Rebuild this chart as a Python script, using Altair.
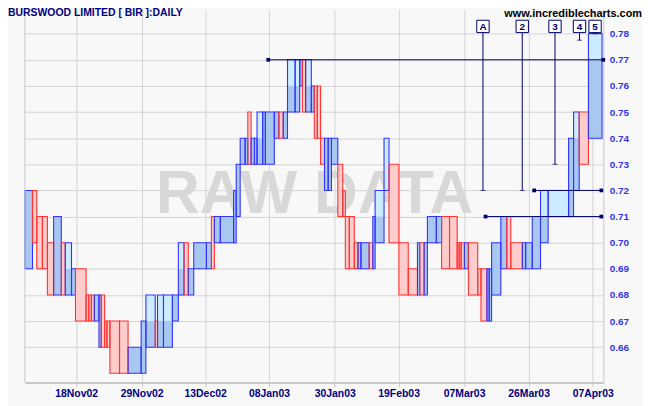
import altair as alt
import pandas as pd

# ---------------- data ----------------
# volume (box width, arbitrary volume units) for each daily box
vol = [7.7, 4.3, 5.7, 5, 6.3, 7.7, 4, 6.3, 4, 10.7,
       2.7, 2.6, 3, 4.7, 2.3, 3.4, 2.3, 3, 9.7, 8.6,
       13.2, 4.8, 9.4, 2.3, 6, 9, 6, 5.7, 4.3, 5.5,
       12.8, 5, 3, 6, 13.4, 2.6, 4, 5, 2.7, 3.3,
       3.4, 2.6, 5.7, 2.7, 9, 4.6, 4.4, 4.3, 7.7, 4.6,
       2.7, 3.3, 5.7, 3, 3, 3.3, 4, 3.7, 3.3, 6.4,
       5, 2.6, 4, 5, 3.7, 3, 8.3, 3.7, 2.3, 9,
       5, 10, 9.4, 9.3, 2.3, 4.4, 3.3, 9, 5.3, 8,
       7.7, 2, 2, 3.3, 4, 9.4, 3.3, 6, 2.3, 2.4,
       9.3, 6, 4, 11.7, 3.3, 6.7, 8.3, 7.7, 20.6, 5,
       5.7, 9.3, 13.7]
low = [.69, .70, .69, .69, .68, .68, .68, .68, .68, .67,
       .67, .67, .67, .67, .66, .66, .66, .66, .65, .65,
       .65, .65, .66, .66, .66, .66, .67, .68, .68, .68,
       .69, .69, .69, .70, .70, .70, .71, .73, .73, .73,
       .73, .73, .73, .73, .73, .74, .74, .74, .75, .75,
       .76, .75, .75, .75, .74, .74, .73, .72, .72, .73,
       .71, .71, .69, .69, .69, .69, .69, .69, .69, .70,
       .72, .70, .68, .68, .68, .68, .68, .70, .70, .69,
       .69, .69, .69, .69, .69, .68, .68, .67, .67, .67,
       .68, .69, .69, .69, .69, .69, .69, .70, .71, .71,
       .72, .73, .74]
high = [.72, .72, .71, .71, .70, .71, .70, .70, .69, .69,
        .68, .68, .68, .68, .68, .68, .67, .67, .67, .67,
        .66, .67, .68, .67, .68, .68, .68, .70, .70, .69,
        .70, .70, .71, .71, .71, .72, .73, .74, .74, .75,
        .74, .74, .75, .75, .75, .75, .75, .75, .77, .77,
        .77, .77, .77, .76, .76, .76, .74, .74, .74, .74,
        .73, .72, .71, .71, .70, .70, .70, .70, .71, .72,
        .74, .73, .70, .69, .70, .70, .70, .71, .71, .71,
        .71, .70, .70, .70, .70, .70, .69, .69, .69, .69,
        .70, .71, .71, .70, .70, .70, .71, .72, .72, .74,
        .75, .75, .78]
open_ = [.69, .72, .71, .71, .70, .68, .70, .68, .68, .69,
         .68, .68, .68, .67, .66, .68, .67, .67, .67, .67,
         .65, .65, .66, .67, .66, .66, .67, .68, .70, .68,
         .69, .69, .71, .70, .70, .70, .71, .73, .73, .75,
         .73, .73, .73, .73, .73, .74, .75, .74, .75, .75,
         .76, .77, .75, .75, .76, .76, .74, .72, .72, .73,
         .73, .72, .71, .71, .70, .69, .69, .70, .69, .70,
         .72, .73, .70, .69, .68, .70, .68, .70, .70, .71,
         .71, .70, .70, .70, .69, .70, .69, .69, .67, .67,
         .68, .69, .71, .70, .69, .69, .69, .70, .71, .71,
         .72, .75, .74]
close_ = [.72, .70, .69, .69, .68, .71, .68, .69, .69, .67,
          .67, .67, .67, .68, .68, .66, .66, .66, .65, .65,
          .66, .67, .67, .66, .67, .67, .68, .69, .68, .69,
          .70, .70, .69, .71, .71, .72, .73, .74, .74, .73,
          .74, .74, .74, .75, .75, .75, .74, .75, .76, .76,
          .77, .75, .76, .76, .74, .74, .73, .74, .74, .74,
          .71, .71, .69, .69, .69, .70, .70, .69, .71, .71,
          .72, .70, .68, .68, .70, .68, .70, .71, .71, .69,
          .69, .69, .69, .69, .70, .68, .68, .67, .69, .69,
          .70, .71, .69, .69, .70, .70, .71, .71, .71, .74,
          .74, .73, .77]

date_pos = [51.7, 117.7, 181.7, 246, 312.3, 376.7, 442.7, 507.7, 572.3]
date_labels = ["18Nov02", "29Nov02", "13Dec02", "08Jan03", "30Jan03",
               "19Feb03", "07Mar03", "26Mar03", "07Apr03"]
price_ticks = [0.66, 0.67, 0.68, 0.69, 0.70, 0.71, 0.72, 0.73, 0.74,
               0.75, 0.76, 0.77, 0.78]

# horizontal trend / support lines
hl_level = [0.77, 0.72, 0.71]
hl_start = [245.3, 513.3, 464.3]
hl_end = [583, 581, 581]

# signal flags
sig_label = ["A", "2", "3", "4", "5"]
sig_x = [461.7, 501.3, 534.3, 559, 574.7]
sig_price = [0.72, 0.72, 0.73, 0.7775, 0.78]

title_text = "BURSWOOD LIMITED [ BIR ]:DAILY"
site_text = "www.incrediblecharts.com"
watermark = "RAW DATA"

# ---------------- build tables ----------------
x0, acc = [], 0.0
for v in vol:
    x0.append(acc)
    acc += v
x1 = [a + v for a, v in zip(x0, vol)]
up = [c >= o for o, c in zip(open_, close_)]

BLUE, RED = "#3333ff", "#ff3333"
LIGHT_BLUE, BODY_BLUE, PINK = "#ccecff", "#a8c8f0", "#ffcccc"
NAVY = "#000066"

bars = pd.DataFrame({
    "x0": x0, "x1": x1, "low": low, "high": high,
    "bot": [min(o, c) for o, c in zip(open_, close_)],
    "top": [max(o, c) for o, c in zip(open_, close_)],
    "wick_fill": [LIGHT_BLUE if u else PINK for u in up],
    "body_fill": [BODY_BLUE if u else PINK for u in up],
    "line": [BLUE if u else RED for u in up],
})

lines = pd.DataFrame({"level": hl_level, "start": hl_start, "end": hl_end})
ends = pd.DataFrame({"x": hl_start + hl_end, "level": hl_level + hl_level})
sigs = pd.DataFrame({"label": sig_label, "x": sig_x, "price": sig_price})

W, H = 583, 376
xs = alt.Scale(domain=[0, 583], nice=False, zero=False)
ys = alt.Scale(domain=[0.64644, 0.78923], nice=False, zero=False)

label_expr = " : ".join(
    f"datum.value == {p} ? '{l}'" for p, l in zip(date_pos, date_labels)) + " : ''"

xaxis = alt.Axis(values=date_pos, labelExpr=label_expr, grid=True,
                 gridColor="#d4d4d4", gridWidth=1, ticks=True, tickSize=4,
                 tickColor="#c8c8c8", domainColor="#c8c8c8", domainWidth=2,
                 labelFont="Liberation Sans", labelFontSize=10.5,
                 labelFontWeight="bold", labelColor="#000080", labelPadding=2,
                 labelFlush=False, labelOverlap=False, title=None)
yaxis = alt.Axis(orient="right", values=price_ticks, format=".2f", grid=True,
                 gridColor="#d4d4d4", gridWidth=1, ticks=False,
                 domainColor="#c8c8c8", labelFont="Liberation Sans",
                 labelFontSize=10, labelFontWeight="bold", labelColor="#3333ee",
                 labelPadding=6, labelOverlap=False, title=None)


def X(field):
    return alt.X(field, scale=xs, axis=xaxis)


def Y(field):
    return alt.Y(field, scale=ys, axis=yaxis)


one = pd.DataFrame({"t": [watermark]})

# axis carrier layer (draws grid + axes beneath everything)
axes_layer = alt.Chart(pd.DataFrame({"x": [0.0], "y": [0.70]})).mark_point(
    opacity=0).encode(x=X("x:Q"), y=Y("y:Q"))

wm = alt.Chart(one).mark_text(font="Liberation Sans", fontSize=61,
                              fontWeight="bold", color="#d8d8d8",
                              align="center", baseline="alphabetic").encode(
    x=alt.value(292), y=alt.value(205), text="t:N")

base = alt.Chart(bars)
wick = base.mark_rect(strokeWidth=0).encode(
    x=X("x0:Q"), x2="x1:Q", y=Y("low:Q"), y2="high:Q",
    fill=alt.Fill("wick_fill:N", scale=None))
body = base.mark_rect(strokeWidth=0).encode(
    x=X("x0:Q"), x2="x1:Q", y=Y("bot:Q"), y2="top:Q",
    fill=alt.Fill("body_fill:N", scale=None))
outline = base.mark_rect(fillOpacity=0, strokeWidth=1.1).encode(
    x=X("x0:Q"), x2="x1:Q", y=Y("low:Q"), y2="high:Q",
    stroke=alt.Stroke("line:N", scale=None))

hlines = alt.Chart(lines).mark_rule(color=NAVY, strokeWidth=1).encode(
    x=X("start:Q"), x2="end:Q", y=Y("level:Q"))
hends = alt.Chart(ends).mark_square(color=NAVY, size=14, opacity=1).encode(
    x=X("x:Q"), y=Y("level:Q"))

BOX_Y = 17
sig_rule = alt.Chart(sigs).mark_rule(color=NAVY, strokeWidth=1).encode(
    x=X("x:Q"), y=Y("price:Q"), y2=alt.value(BOX_Y + 6))
sig_tick = alt.Chart(sigs).mark_tick(color=NAVY, orient="horizontal", size=5,
                                     thickness=1).encode(
    x=X("x:Q"), y=Y("price:Q"))
sig_box = alt.Chart(sigs).mark_point(shape="square", size=155, filled=True,
                                     fill="#ffffff", stroke=NAVY, strokeWidth=1,
                                     opacity=1).encode(
    x=X("x:Q"), y=alt.value(BOX_Y))
sig_text = alt.Chart(sigs).mark_text(font="Liberation Sans", fontSize=10,
                                     fontWeight="bold", color=NAVY,
                                     align="center", baseline="middle").encode(
    x=X("x:Q"), y=alt.value(BOX_Y + 0.5), text="label:N")

left_line = alt.Chart(one).mark_rule(color="#c8c8c8", strokeWidth=1).encode(
    x=alt.value(0), y=alt.value(0), y2=alt.value(H))

title = alt.Chart(pd.DataFrame({"t": [title_text]})).mark_text(
    font="Liberation Sans", fontSize=10.5, fontWeight="bold", color="#000080",
    align="left", baseline="top").encode(x=alt.value(-17), y=alt.value(-1.5),
                                         text="t:N")
site = alt.Chart(pd.DataFrame({"t": [site_text]})).mark_text(
    font="Liberation Sans", fontSize=11, fontWeight="bold", color="#000000",
    align="right", baseline="top").encode(x=alt.value(622), y=alt.value(-2),
                                          text="t:N")

chart = alt.layer(
    axes_layer, wm, wick, body, outline, left_line, hlines, hends,
    sig_rule, sig_tick, sig_box, sig_text, title, site
).properties(
    width=W, height=H,
    padding={"left": 17, "top": 0, "right": 40, "bottom": 22},
    autosize=alt.AutoSizeParams(type="none"),
    background="#f8f8f8",
).configure_view(strokeWidth=0)

chart.save("out.html", embed_options={"renderer": "svg", "actions": False})
